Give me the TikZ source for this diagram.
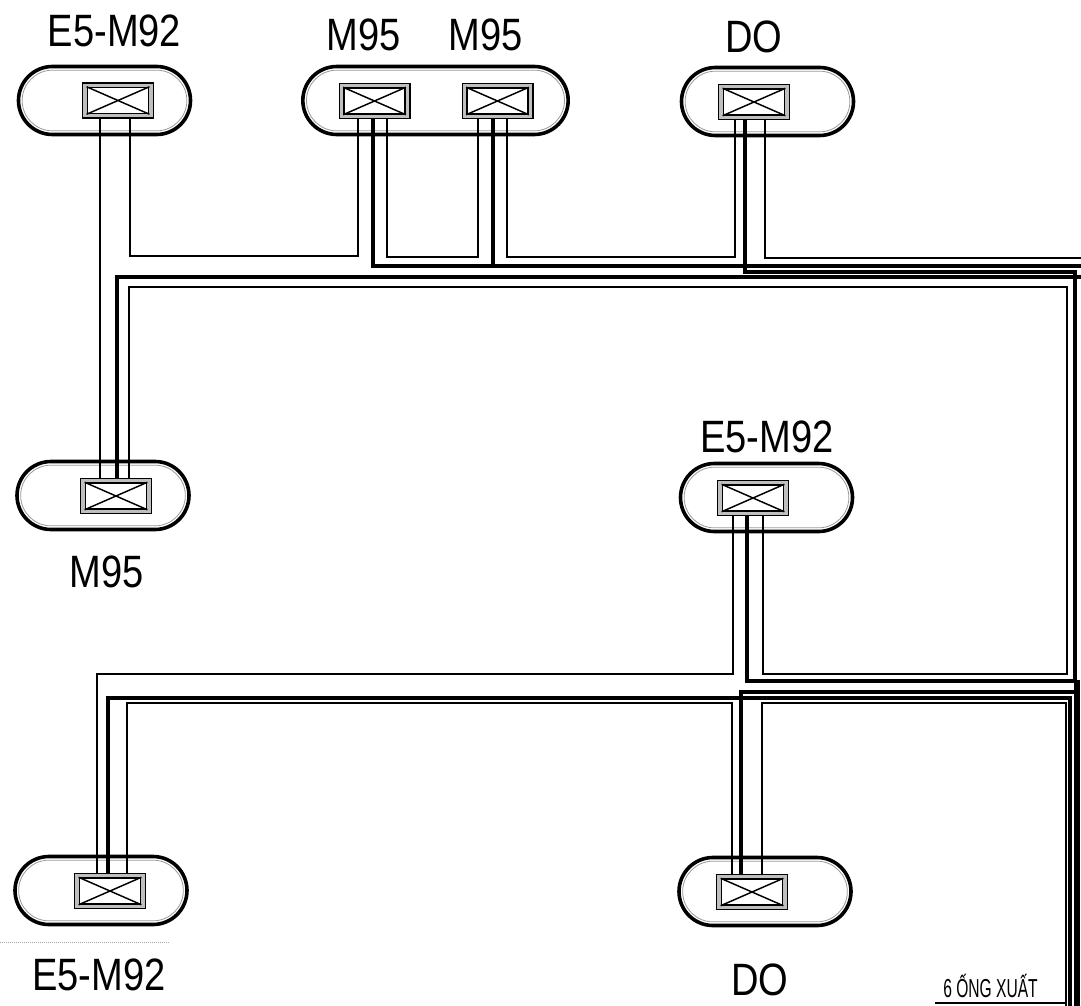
\documentclass[tikz,border=0pt]{standalone}
\usepackage{fontspec}
\usepackage{tikz}
\usetikzlibrary{calc,shapes.misc}
\newfontfamily\labelfont[FakeStretch=0.84]{Liberation Sans}
\newfontfamily\notefont[FakeStretch=0.6]{Liberation Sans}

\begin{document}
\begin{tikzpicture}[x=0.75pt, y=-0.75pt, line cap=butt, line join=miter,
    tank/.style={rounded rectangle, draw, line width=2.7pt, inner sep=0pt, minimum height=51pt},
    tankin/.style={rounded rectangle, draw=gray!80, line width=0.6pt, inner sep=0pt, minimum height=45.5pt},
    valve/.style={rectangle, draw, fill=gray!50, line width=1pt, inner sep=0pt, minimum width=53pt, minimum height=26pt},
    valvein/.style={rectangle, draw, fill=white, line width=1.1pt, inner sep=0pt, minimum width=46pt, minimum height=19.5pt},
    pipethin/.style={draw, line width=1.2pt},
    pipethick/.style={draw, line width=2.4pt},
    tag/.style={inner sep=0pt, font=\labelfont\fontsize{34}{36}\selectfont}]

    \useasboundingbox (0,0) rectangle (1081,1006);

    % --- 1. Tanks ---
    \foreach \name/\cx/\cy/\w in {t1/104.5/100.5/129, t2/435.5/100.5/199, t3/767.5/101.5/129,
        t4/103/495.5/129, t5/766.5/497.5/129, t6/101/890.5/129, t7/765/891.5/129} {
        \node[tank, minimum width=\w pt] (\name) at (\cx,\cy) {};
        \node[tankin, minimum width=\w pt-5.5pt] (\name in) at (\name) {};
    }

    % --- 2. Valves ---
    \foreach \name/\cx/\cy in {v1/118/100.5, v2/374.5/101, v3/497.5/101, v4/754/102,
        v5/116/496, v6/753/498, v7/110/891, v8/752/892} {
        \node[valve] (\name) at (\cx,\cy) {};
        \node[valvein] (\name in) at (\name) {};
        \draw[line width=1.1pt] (\name in.north west) -- (\name in.south east);
        \draw[line width=1.1pt] (\name in.south west) -- (\name in.north east);
    }

    % Ports on the valves
    \foreach \port/\anc/\dx in {v1a/v1.south/-18, v1b/v1.south/12,
        v2a/v2.south/-16.5, v2b/v2.south/-1.5, v2c/v2.south/12.5,
        v3a/v3.south/-19.5, v3b/v3.south/-4.5, v3c/v3.south/9.5,
        v4a/v4.south/-19, v4b/v4.south/-9, v4c/v4.south/11,
        v5a/v5.north/-16, v5b/v5.north/1, v5c/v5.north/13,
        v6a/v6.south/-20, v6b/v6.south/-6, v6c/v6.south/10,
        v7a/v7.north/-13, v7b/v7.north/-2, v7c/v7.north/17,
        v8a/v8.north/-20, v8b/v8.north/-11, v8c/v8.north/10}
        \coordinate (\port) at ($(\anc)+(\dx,0)$);

    % Free ends on the page edge
    \coordinate (edgeA) at (1081,258);
    \coordinate (edgeB) at (1081,266);
    \coordinate (edgeC) at (1081,277);
    \coordinate (exitA) at (1066,1006);
    \coordinate (exitB) at (1070,1006);
    \coordinate (exitC) at (1075,680);
    \coordinate (bandT) at (1077,680);
    \coordinate (bandB) at (1077,1006);

    % --- 3. Upper pipes ---
    \draw[pipethin] (v1a) -- (v5a);
    \draw[pipethin] (v1b) -- (130,256) -| (v2a);
    \draw[pipethin] (v2c) -- (387,257) -| (v3a);
    \draw[pipethin] (v3c) -- (507,257) -| (v4a);
    \draw[pipethin] (v4c) -- (765,258) -- (edgeA);
    \draw[pipethick] (v2b) -- (373,266) -- (edgeB);
    \draw[pipethick] (v3b) -- (493,266);
    \draw[pipethick] (v4b) -- (745,272) -| (exitC);
    \draw[pipethick] (v5b) -- (117,277) -- (edgeC);
    \draw[pipethin] (v5c) -- (129,287) -- (1067,287) -- (1067,674) -| (v6c);

    % --- 4. Lower pipes ---
    \draw[pipethin] (v6a) -- (733,674) -| (v7a);
    \draw[pipethick] (v6b) -- (747,681) -- (1076,681);
    \draw[pipethick] (v8b) -- (741,692) -- (1076,692);
    \draw[pipethick] (v7b) -- (108,698) -- (1070,698) -- (exitB);
    \draw[pipethin] (v7c) -- (127,703) -| (v8a);
    \draw[pipethin] (v8c) -- (762,703) -| (exitA);

    % Bundle going out at the bottom
    \draw[line width=5pt] (bandT) -- (bandB);

    % --- 5. Labels ---
    \node[tag] (lab1) at (114.5,31) {E5-M92};
    \node[tag] (lab2) at (364,35) {M95};
    \node[tag] (lab3) at (486,35) {M95};
    \node[tag] (lab4) at (754,37) {DO};
    \node[tag] (lab5) at (767,437) {E5-M92};
    \node[tag] (lab6) at (107,572) {M95};
    \node[tag] (lab7) at (99,975) {E5-M92};
    \node[tag] (lab8) at (760,980) {DO};

    \node[inner sep=0pt, anchor=base, font=\notefont\fontsize{19.5}{21}\selectfont] (note) at (990.5,997) {6 ỐNG XUẤT};
    \draw[line width=1.5pt] (935,1003) -- (1065,1003);

    % Faint line under the left tank
    \draw[gray!70, line width=0.5pt, densely dotted] (0,942) -- (170,942);
  \end{tikzpicture}
\end{document}
